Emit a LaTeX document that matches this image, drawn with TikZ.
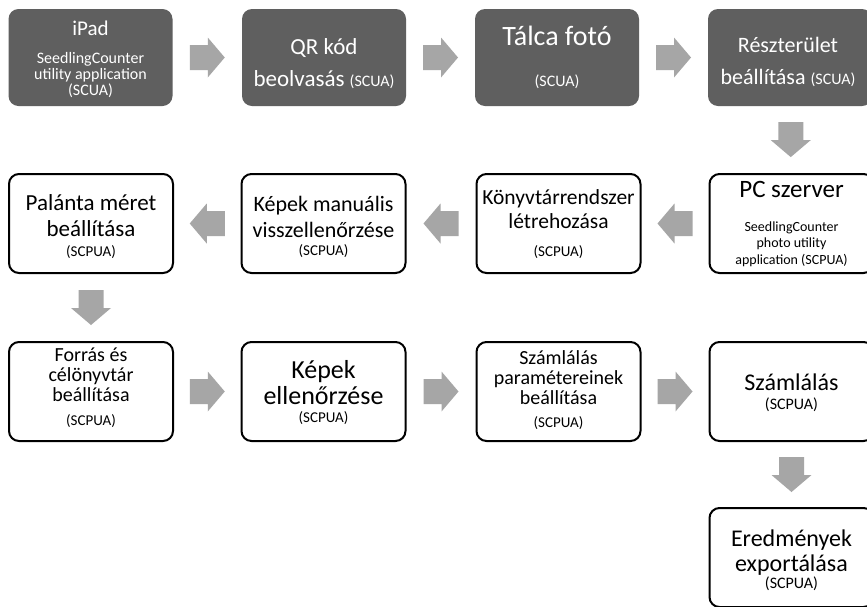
\documentclass[tikz,border=0pt]{standalone}
\usepackage{fontspec}
\setmainfont{Carlito}
\usetikzlibrary{calc}
\definecolor{darkbox}{RGB}{95,95,95}
\definecolor{arrowgray}{RGB}{166,166,166}
\newcommand\myfs[2]{\fontsize{#1}{#2}\selectfont}
\begin{document}
\begin{tikzpicture}[x=1pt,y=-1pt,
  darkstep/.style={rectangle, rounded corners=10pt, fill=darkbox, minimum width=164pt, minimum height=97pt, inner sep=0pt},
  whitestep/.style={rectangle, rounded corners=10pt, draw=black, line width=2pt, fill=white, minimum width=164pt, minimum height=99pt, inner sep=0pt},
  wtxt/.style={anchor=base, align=center, text=white, inner sep=0pt},
  btxt/.style={anchor=base, align=center, text=black, inner sep=0pt},
  blockarrow/.pic={\fill[arrowgray] (-17.5,-12.5) -- (0.5,-12.5) -- (0.5,-20) -- (17.5,0) -- (0.5,20) -- (0.5,12.5) -- (-17.5,12.5) -- cycle;}
]
\clip (0,0) rectangle (867,606);
\useasboundingbox (0,0) rectangle (867,606);
\fill[white] (0,0) rectangle (867,606);

% boxes
\node[darkstep] (b1) at (90.5,57.5) {};
\node[darkstep] (b2) at (324,57.5) {};
\node[darkstep] (b3) at (557,57.5) {};
\node[darkstep] (b4) at (790,57.5) {};
\node[whitestep] (c1) at (91,223.5) {};
\node[whitestep] (c2) at (323.5,223.5) {};
\node[whitestep] (c3) at (558.5,223.5) {};
\node[whitestep] (c4) at (791.5,223.5) {};
\node[whitestep] (d1) at (91,391.5) {};
\node[whitestep] (d2) at (323.5,391.5) {};
\node[whitestep] (d3) at (558.5,391.5) {};
\node[whitestep] (d4) at (791.5,391.5) {};
\node[whitestep] (e4) at (791.5,557.5) {};

% arrows
\pic at ($(b1.east)!0.5!(b2.west)$) {blockarrow};
\pic at ($(b2.east)!0.5!(b3.west)$) {blockarrow};
\pic at ($(b3.east)!0.5!(b4.west)$) {blockarrow};
\pic[rotate=-90] at ($(b4.south)!0.5!(c4.north)$) {blockarrow};
\pic[rotate=180] at ($(c4.west)!0.5!(c3.east)$) {blockarrow};
\pic[rotate=180] at ($(c3.west)!0.5!(c2.east)$) {blockarrow};
\pic[rotate=180] at ($(c2.west)!0.5!(c1.east)$) {blockarrow};
\pic[rotate=-90] at ($(c1.south)!0.5!(d1.north)$) {blockarrow};
\pic at ($(d1.east)!0.5!(d2.west)$) {blockarrow};
\pic at ($(d2.east)!0.5!(d3.west)$) {blockarrow};
\pic at ($(d3.east)!0.5!(d4.west)$) {blockarrow};
\pic[rotate=-90] at ($(d4.south)!0.5!(e4.north)$) {blockarrow};

% row 1 texts (multi-line nodes: y is the baseline of the last line)
\node[wtxt, font=\myfs{21}{21}] (t1a) at (90.5,35) {iPad};
\node[wtxt, font=\myfs{16}{16}] (t1b) at (90.5,95) {SeedlingCounter\\utility application\\(SCUA)};
\node[wtxt, font=\myfs{23}{32}] (t2) at (324,86) {QR kód\\beolvasás {\myfs{16}{16}(SCUA)}};
\node[wtxt, font=\myfs{28}{28}] (t3a) at (557,45) {Tálca fotó};
\node[wtxt, font=\myfs{16}{16}] (t3b) at (557,86) {(SCUA)};
\node[wtxt, font=\myfs{22}{32}] (t4) at (788,84) {Részterület\\beállítása {\myfs{16}{16}(SCUA)}};

% row 2 texts
\node[btxt, font=\myfs{23}{26}] (u1a) at (91,236) {Palánta méret\\beállítása};
\node[btxt, font=\myfs{15}{15}] (u1b) at (91,256) {(SCPUA)};
\node[btxt, font=\myfs{22}{26}] (u2a) at (323.5,237) {Képek manuális\\visszellenőrzése};
\node[btxt, font=\myfs{15}{15}] (u2b) at (323.5,255) {(SCPUA)};
\node[btxt, font=\myfs{21.5}{24}] (u3a) at (558.5,228) {Könyvtárrendszer\\létrehozása};
\node[btxt, font=\myfs{15}{15}] (u3b) at (558.5,256) {(SCPUA)};
\node[btxt, font=\myfs{25}{25}] (u4a) at (791.5,197) {PC szerver};
\node[btxt, font=\myfs{14}{16.5}] (u4b) at (791.5,264) {SeedlingCounter\\photo utility\\application (SCPUA)};

% row 3 texts
\node[btxt, font=\myfs{20}{20}] (v1a) at (91,401) {Forrás és\\célönyvtár\\beállítása};
\node[btxt, font=\myfs{15}{15}] (v1b) at (91,425) {(SCPUA)};
\node[btxt, font=\myfs{26}{26}] (v2a) at (323.5,404) {Képek\\ellenőrzése};
\node[btxt, font=\myfs{15}{15}] (v2b) at (323.5,422) {(SCPUA)};
\node[btxt, font=\myfs{20}{20}] (v3a) at (558.5,404) {Számlálás\\paramétereinek\\beállítása};
\node[btxt, font=\myfs{15}{15}] (v3b) at (558.5,427) {(SCPUA)};
\node[btxt, font=\myfs{24}{24}] (v4a) at (791.5,390) {Számlálás};
\node[btxt, font=\myfs{16}{16}] (v4b) at (791.5,409) {(SCPUA)};

% row 4 texts
\node[btxt, font=\myfs{24}{25}] (w4a) at (791.5,571) {Eredmények\\exportálása};
\node[btxt, font=\myfs{16}{16}] (w4b) at (791.5,588) {(SCPUA)};
\end{tikzpicture}
\end{document}
